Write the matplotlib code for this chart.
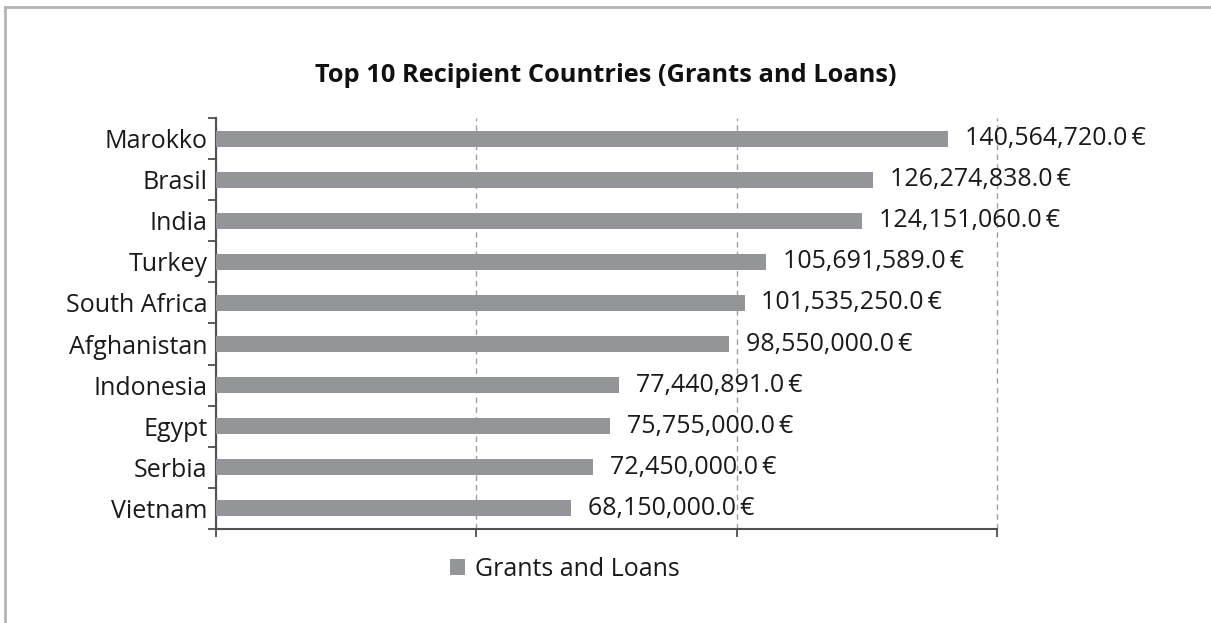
import matplotlib.pyplot as plt
from matplotlib.lines import Line2D
from matplotlib.patches import Patch

plt.rcParams['font.family'] = ['Open Sans', 'DejaVu Sans']

countries = ["Marokko", "Brasil", "India", "Turkey", "South Africa",
             "Afghanistan", "Indonesia", "Egypt", "Serbia", "Vietnam"]
amounts = [140564720.0, 126274838.0, 124151060.0, 105691589.0, 101535250.0,
           98550000.0, 77440891.0, 75755000.0, 72450000.0, 68150000.0]

bar_color = "#939598"

fig = plt.figure(figsize=(12.11, 6.23), dpi=100)
ax = fig.add_axes([0.1784, 0.1509, 0.6449, 0.6597])

pos = list(range(len(countries)))
ax.barh(pos, amounts, height=0.39, color=bar_color, zorder=3)

for y, v in zip(pos, amounts):
    ax.annotate(f"{v:,.1f}\u2009€", xy=(v, y), xytext=(12, 0), textcoords="offset points",
                va="center", ha="left", fontsize=18, color="#1a1a1a", zorder=4)

ax.set_xlim(0, 150000000)
ax.set_ylim(len(countries) - 0.5, -0.5)

ax.set_xticks([0, 50000000, 100000000, 150000000])
ax.set_xticklabels([])
ax.tick_params(axis="x", direction="out", length=6, width=1.2, color="#404040")
ax.xaxis.grid(True, linestyle=(0, (4, 3)), color="#a0a0a0", linewidth=1, zorder=0)
for g in ax.get_xgridlines():
    g.set_clip_on(False)

ax.set_yticks(pos)
ax.set_yticklabels(countries, fontsize=18, color="#1a1a1a")
ax.set_yticks([p - 0.5 for p in pos] + [len(countries) - 0.5], minor=True)
ax.tick_params(axis="y", which="major", length=0, pad=6)
ax.tick_params(axis="y", which="minor", direction="out", length=6, width=1.2, color="#404040")

for s in ["top", "right"]:
    ax.spines[s].set_visible(False)
for s in ["left", "bottom"]:
    ax.spines[s].set_color("#505050")
    ax.spines[s].set_linewidth(1.5)

fig.text(0.5, 0.879, "Top 10 Recipient Countries (Grants and Loans)",
         ha="center", va="center", fontsize=18.3, fontweight="bold", color="#111111")

handle = Patch(facecolor=bar_color, edgecolor="none")
fig.legend([handle], ["Grants and Loans"], loc="center", bbox_to_anchor=(0.4666, 0.086),
           frameon=False, fontsize=18, handlelength=0.6, handleheight=0.6,
           handletextpad=0.4, labelcolor="#1a1a1a")

# light frame along the top and left edge
fig.add_artist(Line2D([0.004, 0.004], [0, 0.988], transform=fig.transFigure,
                      color="#b4b4b4", linewidth=2))
fig.add_artist(Line2D([0.004, 1], [0.988, 0.988], transform=fig.transFigure,
                      color="#b4b4b4", linewidth=2))

fig.savefig("out.png", dpi=100, facecolor="white")
